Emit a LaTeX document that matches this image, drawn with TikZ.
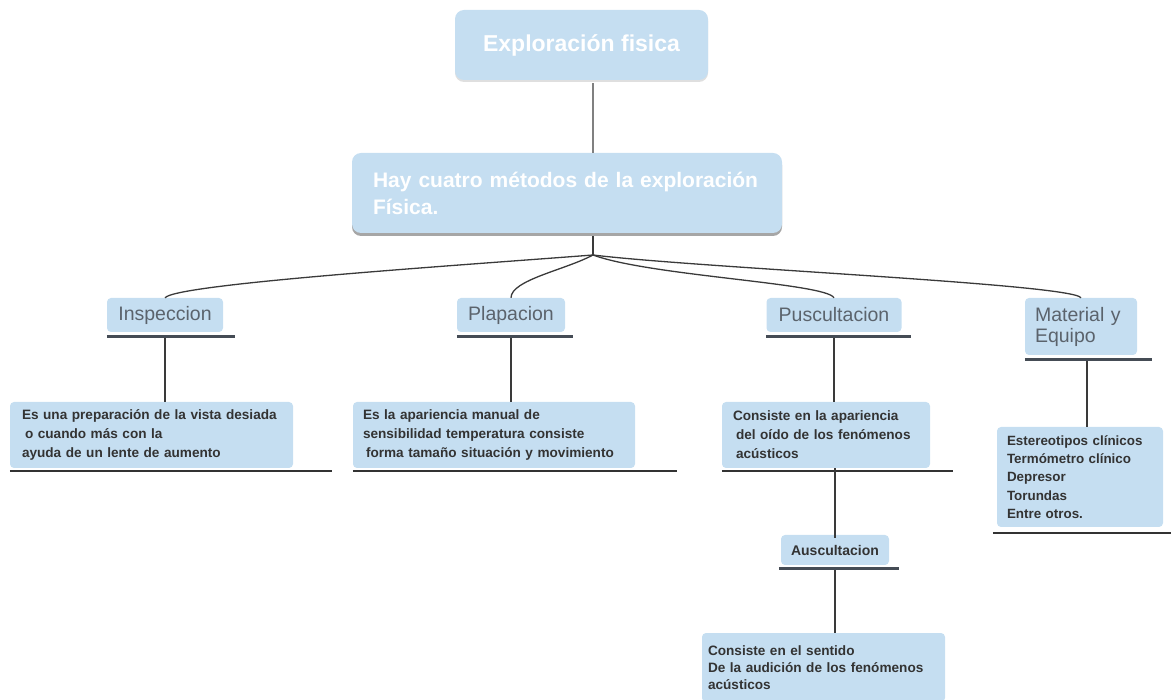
\documentclass[tikz,border=0pt]{standalone}
\usepackage{fontspec}
\setmainfont{Liberation Sans}
\usetikzlibrary{shadows}
\definecolor{boxfill}{HTML}{C5DEF1}
\definecolor{lbltext}{HTML}{5B636C}
\definecolor{desctext}{HTML}{333333}
\definecolor{ulcol}{HTML}{454C55}
\definecolor{conncol}{HTML}{3A3A3A}
\begin{document}
\begin{tikzpicture}[x=1pt,y=-1pt,
  bigbox/.style={fill=boxfill, rounded corners=9pt, inner sep=0pt, text=white,
    font=\bfseries\fontsize{23}{27}\selectfont},
  methbox/.style={fill=boxfill, rounded corners=9pt, inner sep=0pt, text=white, align=left,
    font=\bfseries\fontsize{21}{27}\selectfont,
    drop shadow={shadow xshift=0pt, shadow yshift=-3pt, fill=gray, opacity=0.7}},
  lblbox/.style={fill=boxfill, rounded corners=4pt, inner sep=0pt, text=lbltext,
    font=\fontsize{19.5}{21}\selectfont},
  descbox/.style={fill=boxfill, rounded corners=4pt, inner sep=0pt, text=desctext, align=left,
    font=\bfseries\fontsize{13.6}{19}\selectfont},
  uline/.style={draw=ulcol, line width=2.8pt},
  dline/.style={draw=desctext, line width=1.8pt},
  conn/.style={draw=conncol, line width=1.3pt},
  topconn/.style={draw=gray, line width=2.4pt}
]
\useasboundingbox (0,0) rectangle (1171,700);

% main boxes
\node[bigbox, minimum width=253pt, minimum height=70pt,
  drop shadow={shadow xshift=0pt, shadow yshift=-2pt, fill=gray, opacity=0.25}] (top) at (581.5,45) {Exploración fisica};
\node[methbox, text width=388pt, minimum width=430pt, minimum height=80pt] (meth) at (567,193)
  {Hay cuatro métodos de la exploración\\Física.};
\coordinate (hub) at (593,255);

% method labels
\node[lblbox, minimum width=116pt, minimum height=34pt] (insp) at (165,315) {Inspeccion};
\node[lblbox, minimum width=108pt, minimum height=34pt] (plap) at (511,315) {Plapacion};
\node[lblbox, minimum width=135pt, minimum height=34pt] (pusc) at (834,315) {Puscultacion};
\node[lblbox, align=left, text width=92pt, minimum width=112pt, minimum height=57pt] (mat) at (1081,326.5) {Material y\\Equipo};

\draw[uline] ([yshift=-4pt]insp.south west) -- ++(128,0);
\draw[uline] ([yshift=-4pt]plap.south west) -- ++(116,0);
\draw[uline] ([yshift=-4pt]pusc.south west) -- ++(145,0);
\draw[uline] ([yshift=-4pt]mat.south west) -- ++(127,0);

% descriptions
\node[descbox, text width=259pt, minimum width=283pt, minimum height=66pt] (inspd) at (151.5,435)
  {Es una preparación de la vista desiada\\\hspace*{3pt}o cuando más con la\\ayuda de un lente de aumento};
\node[descbox, text width=262pt, minimum width=282pt, minimum height=66pt] (plapd) at (494,435)
  {Es la apariencia manual de\\sensibilidad temperatura consiste\\\hspace*{3pt}forma tamaño situación y movimiento};
\node[descbox, text width=186pt, minimum width=208pt, minimum height=66pt] (puscd) at (826,435)
  {Consiste en la apariencia\\\hspace*{3pt}del oído de los fenómenos\\\hspace*{3pt}acústicos};
\node[descbox, text width=146pt, minimum width=166pt, minimum height=100pt,
  font=\bfseries\fontsize{13.4}{18.3}\selectfont] (matd) at (1080,477)
  {Estereotipos clínicos\\Termómetro clínico\\Depresor\\Torundas\\Entre otros.};
\node[descbox, align=center, text width=108pt, minimum width=108pt, minimum height=30pt,
  font=\bfseries\fontsize{14}{17}\selectfont] (ausc) at (835,550) {Auscultacion};
\node[descbox, text width=231pt, minimum width=243pt, minimum height=69pt,
  font=\bfseries\fontsize{13.6}{17}\selectfont] (auscd) at (823.5,667.5)
  {Consiste en el sentido\\De la audición de los fenómenos\\acústicos};

\draw[dline] ([yshift=-3pt]inspd.south west) -- ++(322,0);
\draw[dline] ([yshift=-3pt]plapd.south west) -- ++(324,0);
\draw[dline] ([yshift=-3pt]puscd.south west) -- ++(231,0);
\draw[dline] ([xshift=-4pt,yshift=-6pt]matd.south west) -- ++(182,0);
\draw[uline] ([xshift=-2pt,yshift=-3pt]ausc.south west) -- ++(120,0);

% connectors
\draw[topconn] ([yshift=-3pt]top.south -| hub) -- (meth.north -| hub);
\draw[conn] ([yshift=-3pt]meth.south -| hub) -- (hub);
\draw[conn] (hub) .. controls (450,266) and (176,284) .. (insp.north);
\draw[conn] (hub) .. controls (565,270) and (511,280) .. (plap.north);
\draw[conn] (hub) .. controls (650,276) and (826,283) .. (pusc.north);
\draw[conn] (hub) .. controls (700,268) and (1072,284) .. (mat.north);

\draw[conn] ([yshift=-6pt]insp.south) -- (insp.south |- inspd.north);
\draw[conn] ([yshift=-6pt]plap.south) -- (plap.south |- plapd.north);
\draw[conn] ([yshift=-6pt]pusc.south) -- (pusc.south |- puscd.north);
\draw[conn] ([xshift=6pt,yshift=-6pt]mat.south) -- ([xshift=6pt]mat.south |- matd.north);
\draw[conn] (ausc.north |- puscd.south) -- ([yshift=-3pt]ausc.north);
\draw[conn] ([yshift=-5pt]ausc.south) -- (ausc.south |- auscd.north);
\end{tikzpicture}
\end{document}
